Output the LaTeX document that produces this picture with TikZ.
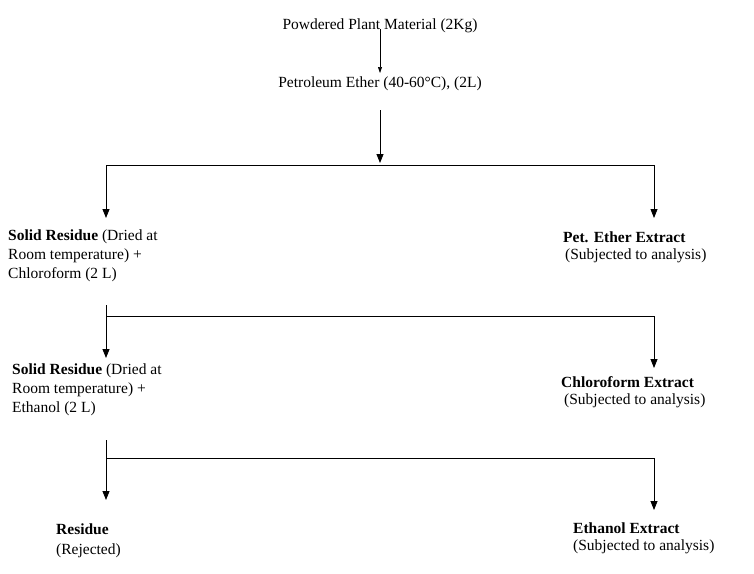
\documentclass[tikz,border=0pt]{standalone}
\usepackage{fontspec}
\setmainfont{Liberation Serif}
\usetikzlibrary{arrows.meta}
\begin{document}
\begin{tikzpicture}[x=1pt,y=-1pt,
  t/.style={inner sep=0pt,font=\fontsize{15.5}{19}\selectfont},
  tl/.style={t,anchor=west},
  blk/.style={t,anchor=north west,align=left},
  ar/.style={line width=0.8pt,-{Triangle[length=9pt,width=7pt]}},
  ln/.style={line width=0.8pt}]
\useasboundingbox (0,0) rectangle (754,573);
\node[t] (pm) at (380,26) {Powdered Plant Material (2Kg)};
\node[t] (pe) at (380,84) {Petroleum Ether (40-60°C), (2L)};
\draw[line width=0.6pt,-{Triangle[length=6pt,width=4pt]}] (pm.south) ++(0,-4) coordinate (a0) -- (380,73) coordinate (a1);
\coordinate (b0) at (380,110);
\coordinate (h1) at (380,165);
\draw[ar] (b0) -- (380,163);
\coordinate (l1) at (106,165); \coordinate (r1) at (654,165);
\draw[ln] (l1) -- (r1);
\draw[ar] (l1) -- (106,218);
\draw[ar] (r1) -- (654,218);
\node[blk] (sr1) at (8,230) {\textbf{Solid Residue} (Dried at\\Room temperature) +\\Chloroform (2 L)};
\node[tl] (pee) at (563,237) {\textbf{Pet. Ether Extract}};
\node[tl] (pes) at (565,256) {(Subjected to analysis)};
\coordinate (v2) at (106,305); \coordinate (l2) at (106,316); \coordinate (r2) at (654,316);
\draw[ar] (v2) -- (106,358);
\draw[ln] (l2) -- (r2);
\draw[ar] (r2) -- (654,368);
\node[blk] (sr2) at (12,364) {\textbf{Solid Residue} (Dried at\\Room temperature) +\\Ethanol (2 L)};
\node[tl] (ce) at (561,382) {\textbf{Chloroform Extract}};
\node[tl] (cs) at (564,401) {(Subjected to analysis)};
\coordinate (v3) at (106,440); \coordinate (l3) at (106,458); \coordinate (r3) at (654,458);
\draw[ar] (v3) -- (106,500);
\draw[ln] (l3) -- (r3);
\draw[ar] (r3) -- (654,510);
\node[tl] (res) at (56,529) {\textbf{Residue}};
\node[tl] (rej) at (56,551) {(Rejected)};
\node[tl] (ee) at (573,528) {\textbf{Ethanol Extract}};
\node[tl] (es) at (573,547) {(Subjected to analysis)};
\end{tikzpicture}
\end{document}
